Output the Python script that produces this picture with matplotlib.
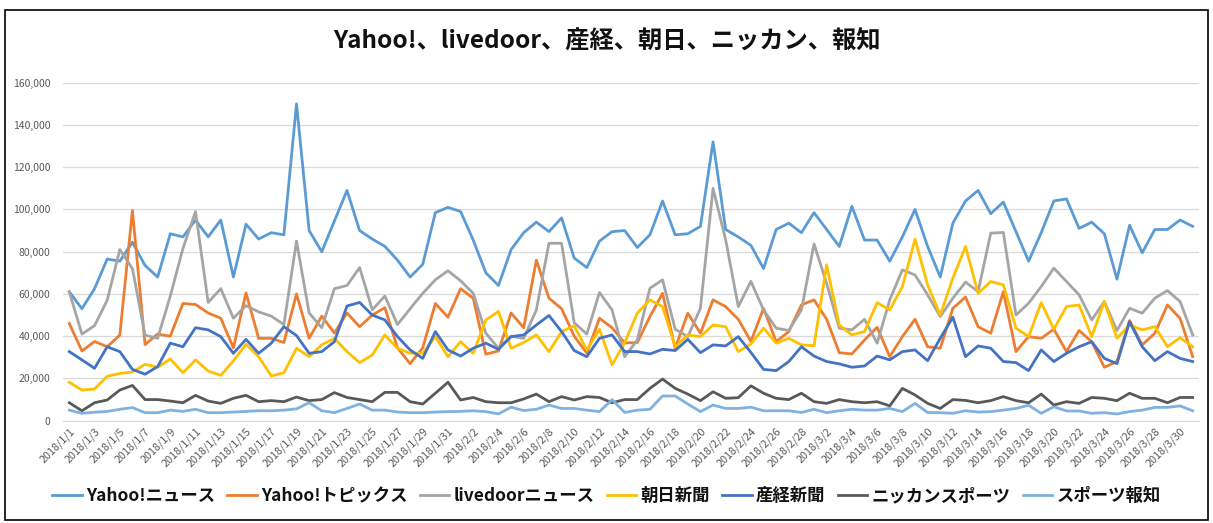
import matplotlib
matplotlib.use("Agg")
import matplotlib.pyplot as plt
import matplotlib.patches as mpatches
from matplotlib.ticker import FuncFormatter, MultipleLocator
import pandas as pd

plt.rcParams['font.family'] = ['Noto Sans CJK JP', 'DejaVu Sans']

dates = [f"2018/{d.month}/{d.day}" for d in pd.date_range("2018-01-01", "2018-03-31")]

yahoo_news = [61000, 53000, 62500, 76500, 75500, 84500, 73500, 68000, 88500, 87000, 95000, 87000, 95000, 68000, 93000, 86000, 89000, 88000,
              150000, 90000, 80000, 94500, 109000, 90000, 86000, 82500, 76000, 68000, 74000, 98500, 101000, 99000, 85500, 70000, 64000, 81000, 89000,
              94000, 89500, 96000, 77000, 72500, 85000, 89500, 90000, 82000, 88000, 104000, 88000, 88500, 92000, 132000, 90500, 87000, 83000,
              72000, 90500, 93500, 89000, 98500, 90500, 82500, 101500, 85500, 85500, 75500, 87000, 100000, 82500, 68000, 93500, 104000,
              109000, 98000, 103500, 89500, 75500, 89000, 104000, 105000, 91000, 94000, 88500, 67000, 92500, 79500, 90500, 90500, 95000, 92000]
yahoo_topics = [46000, 33000, 37500, 35000, 40500, 99500, 36000, 41000, 40000, 55500, 55000, 51000, 48500, 34500, 60500, 39000, 39000, 37000,
                60000, 39000, 49500, 41500, 51000, 44500, 50000, 53500, 34500, 27000, 34500, 55500, 49000, 62500, 58000, 31500, 33000, 51000, 44000,
                76000, 58000, 53000, 40000, 32000, 48500, 44000, 36800, 37000, 49300, 60300, 34300, 50900, 41400, 57200, 54000, 48000, 37500,
                53200, 37400, 42200, 54800, 57200, 48000, 32200, 31600, 38200, 44200, 30300, 39800, 48000, 35000, 34300, 53200, 58500,
                44500, 41400, 61100, 32700, 39800, 39000, 43300, 32700, 42700, 37400, 25300, 28000, 47400, 35900, 41400, 54800, 48500, 30300]
livedoor = [61000, 41000, 45000, 57000, 81000, 72000, 40500, 39000, 59000, 81500, 99000, 56000, 62500, 48500, 54500, 51500, 49500, 45500,
            85000, 51000, 44000, 62500, 64000, 72500, 52500, 59000, 45500, 53000, 60300, 66700, 71000, 66200, 60300, 41400, 34300, 40000, 39000,
            52400, 84000, 84000, 46400, 41000, 60700, 52400, 30300, 38200, 62700, 66700, 43300, 39800, 53200, 110000, 85600, 54000, 66000,
            52400, 43800, 42700, 52400, 83700, 65000, 43800, 43000, 48000, 36700, 57200, 71400, 69000, 59600, 49300, 58000, 65600,
            61100, 88800, 89100, 50000, 55600, 63500, 72200, 65900, 59600, 47700, 56400, 42700, 53200, 50900, 58000, 61600, 56400, 40600]
asahi = [18200, 14500, 15000, 21000, 22400, 23000, 26700, 25300, 29200, 22700, 28800, 23500, 21500, 28300, 36200, 30300, 21200, 22700,
         34300, 30300, 35900, 39000, 32700, 27500, 31100, 40600, 34300, 31900, 31900, 39800, 30300, 37400, 31900, 47700, 51700, 34300, 37000,
         40600, 32700, 42200, 44900, 33500, 43300, 26400, 37000, 50900, 57200, 54000, 35000, 40600, 39800, 45300, 44500, 32700, 36300,
         43800, 36700, 39000, 35900, 35500, 73800, 45300, 40600, 42200, 55900, 52400, 63500, 85900, 64300, 50000, 67500, 82500,
         60300, 65900, 64300, 43800, 39800, 55900, 43300, 54000, 54800, 39800, 56400, 39000, 45300, 43000, 44500, 35000, 39300, 35000]
sankei = [32700, 28800, 24800, 35000, 32700, 24300, 22000, 25600, 36700, 35000, 44000, 43000, 39800, 31900, 38500, 31900, 36700, 44500,
          40300, 31900, 32700, 37400, 54300, 56000, 50000, 47700, 39800, 33500, 29500, 42200, 33500, 30600, 34300, 36700, 33800, 39800, 40600,
          45300, 49800, 42200, 33200, 30300, 39000, 40600, 32700, 32700, 31600, 33800, 33200, 38500, 32200, 35900, 35400, 39800, 32300,
          24300, 23700, 28000, 35000, 30600, 28000, 26900, 25300, 25900, 30600, 28800, 32700, 33500, 28400, 39000, 49000, 30300,
          35400, 34300, 28000, 27500, 23700, 33500, 28000, 31900, 35000, 37400, 29500, 27000, 46900, 35000, 28400, 32700, 29500, 28000]
nikkan = [8500, 4700, 8500, 9800, 14500, 16700, 10000, 10000, 9300, 8500, 12000, 9300, 8200, 10600, 12000, 9000, 9500, 9000,
          11200, 9500, 10000, 13300, 11000, 10000, 9000, 13400, 13400, 9000, 7900, 13000, 18200, 9800, 11000, 9000, 8500, 8500, 10300,
          12600, 9000, 11400, 9800, 11400, 11000, 8500, 10000, 10000, 15300, 19700, 15300, 12600, 9500, 13700, 10600, 10900, 16500,
          13000, 10600, 10000, 13000, 9000, 8200, 10000, 9000, 8500, 9000, 7000, 15300, 12200, 8200, 5800, 10000, 9600,
          8500, 9500, 11400, 9500, 8500, 12600, 7400, 9000, 8200, 11000, 10600, 9500, 13000, 10600, 10600, 8500, 11000, 11000]
hochi = [5000, 3500, 4000, 4400, 5400, 6200, 3800, 3800, 5000, 4400, 5400, 3800, 3800, 4100, 4400, 4700, 4700, 5000,
         5600, 8500, 4700, 3800, 5800, 7900, 5000, 5000, 4100, 3800, 3800, 4100, 4300, 4400, 4700, 4300, 3200, 6400, 4800,
         5400, 7400, 5800, 5800, 5000, 4300, 10000, 3900, 5000, 5400, 11700, 11700, 7900, 4300, 7400, 5800, 5800, 6400,
         4700, 4700, 4700, 3900, 5400, 3800, 4700, 5400, 5000, 5000, 5800, 4300, 8200, 3900, 3800, 3500, 4700,
         4100, 4300, 5000, 5800, 7300, 3500, 6600, 4600, 4600, 3500, 3800, 3200, 4300, 5000, 6300, 6300, 7000, 4700]

series_names = ["Yahoo!ニュース", "Yahoo!トピックス", "livedoorニュース", "朝日新聞", "産経新聞", "ニッカンスポーツ", "スポーツ報知"]
series_values = [yahoo_news, yahoo_topics, livedoor, asahi, sankei, nikkan, hochi]
colors = ["#5B9BD5", "#ED7D31", "#A5A5A5", "#FFC000", "#4472C4", "#595959", "#7FB2E0"]
title = "Yahoo!、livedoor、産経、朝日、ニッカン、報知"

W, H = 1213, 523
fig = plt.figure(figsize=(W / 100, H / 100), dpi=100)
ax = fig.add_axes([63 / W, 1 - 420.7 / H, (1199 - 63) / W, (420.7 - 82.7) / H])

x = list(range(len(dates)))
for name, vals, c in zip(series_names, series_values, colors):
    ax.plot(x, vals, color=c, lw=2.0, label=name, solid_joinstyle='round')

ax.set_xlim(-0.5, len(dates) - 0.5)
ax.set_ylim(0, 160000)
ax.yaxis.set_major_locator(MultipleLocator(20000))
ax.yaxis.set_major_formatter(FuncFormatter(lambda v, p: f"{int(v):,}"))
ax.grid(axis='y', color='#D9D9D9', lw=0.9)
ax.set_axisbelow(True)
for s in ['top', 'right', 'left']:
    ax.spines[s].set_visible(False)
ax.spines['bottom'].set_color('#D9D9D9')
ax.tick_params(axis='y', length=0, labelsize=7.5, labelcolor='#595959', pad=9)
ax.set_xticks(x[::2])
ax.set_xticklabels(dates[::2], rotation=45, ha='right', va='top', rotation_mode='anchor',
                   fontsize=7.8, color='#595959')
ax.tick_params(axis='x', length=0, pad=4)

fig.text(0.5, 1 - 42 / H, title, ha='center', va='center', fontsize=17.5, fontweight='bold', color='#111111')

leg = fig.legend(loc='center', bbox_to_anchor=(0.5, 1 - 496 / H), ncol=7, frameon=False,
                 handlelength=1.7, handletextpad=0.25, columnspacing=0.7,
                 prop={'size': 12.5, 'weight': 'bold'})
for t in leg.get_texts():
    t.set_color('#111111')

fig.patches.append(mpatches.Rectangle((5 / W, 1 - 520 / H), (1208 - 5) / W, (520 - 10) / H,
                                      transform=fig.transFigure, fill=False, edgecolor='black', lw=1.2))

fig.savefig("out.png", dpi=100)
